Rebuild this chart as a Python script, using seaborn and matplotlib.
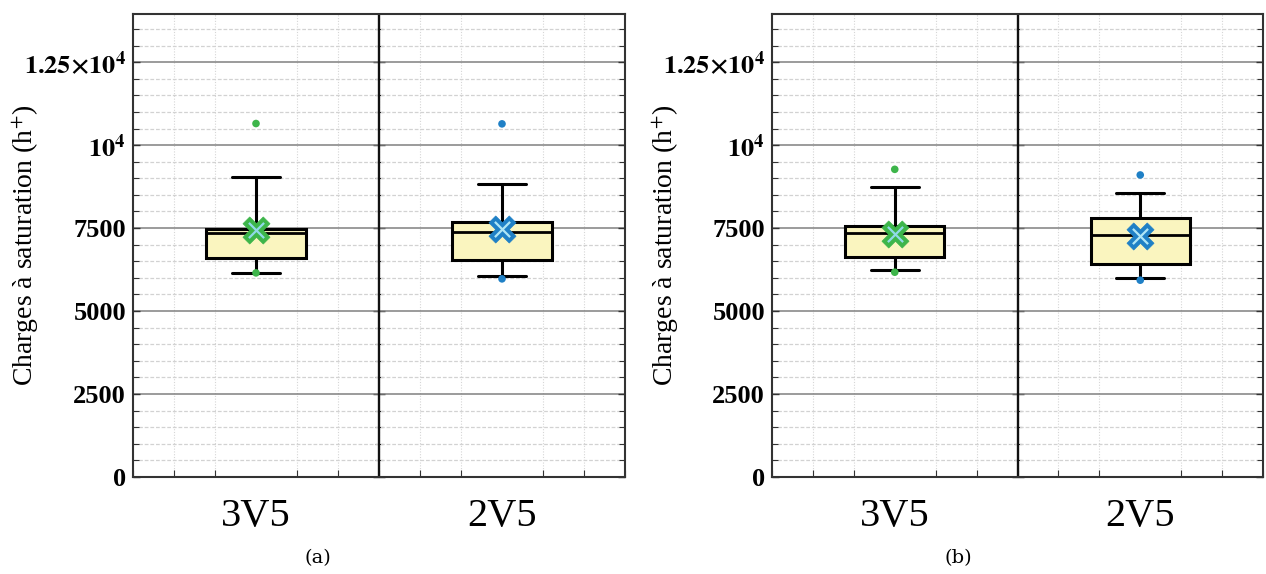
import numpy as np
import pandas as pd
import matplotlib
matplotlib.use("Agg")
import matplotlib.pyplot as plt
from matplotlib.ticker import MultipleLocator, FixedLocator, NullFormatter
import seaborn as sns

# ---------------- data ----------------
categories = ["3V5", "2V5"]
panel_names = ["(a)", "(b)"]

# panel (a)
whislo_a = [6150, 6050]
q1_a = [6590, 6530]
med_a = [7360, 7370]
q3_a = [7460, 7690]
whishi_a = [9030, 8830]
mean_a = [7440, 7460]
fliers_a = [[10650, 6150], [10640, 5970]]

# panel (b)
whislo_b = [6240, 6000]
q1_b = [6620, 6430]
med_b = [7350, 7300]
q3_b = [7550, 7810]
whishi_b = [8740, 8550]
mean_b = [7320, 7270]
fliers_b = [[9270, 6170], [9100, 5930]]

yticks = [0, 2500, 5000, 7500, 10000, 12500]
yticklabels = ["0", "2500", "5000", "7500", r"$\mathbf{10^4}$", r"$\mathbf{1.25{\times}10^4}$"]
ylabel = r"Charges à saturation (h$^{+}$)"

series_colors = ["#3db54a", "#1f80c6"]
inner_colors = ["#8fd9e8", "#aee6f6"]
box_fill = "#faf5bf"

# ---------------- style ----------------
sns.set_style("ticks")
plt.rcParams["font.family"] = ["Liberation Serif", "DejaVu Serif"]
plt.rcParams["mathtext.fontset"] = "stix"
plt.rcParams["text.color"] = "black"
plt.rcParams["xtick.color"] = "black"
plt.rcParams["ytick.color"] = "black"

fig = plt.figure(figsize=(12.66, 5.74), dpi=100)
W, H = 1266, 574

panels = [
    dict(left=133, right=625, lo=whislo_a, q1=q1_a, med=med_a, q3=q3_a, hi=whishi_a,
         mean=mean_a, fl=fliers_a, ylab_x=26, cap_x=318),
    dict(left=772, right=1263, lo=whislo_b, q1=q1_b, med=med_b, q3=q3_b, hi=whishi_b,
         mean=mean_b, fl=fliers_b, ylab_x=666, cap_x=958),
]
top_px, bot_px = 14, 477

for p, name in zip(panels, panel_names):
    ax = fig.add_axes([p["left"] / W, (H - bot_px) / H,
                       (p["right"] - p["left"]) / W, (bot_px - top_px) / H])
    ax.set_xlim(-0.5, 1.5)
    ax.set_ylim(0, 13950)

    # grid
    ax.yaxis.set_major_locator(FixedLocator(yticks))
    ax.yaxis.set_minor_locator(MultipleLocator(500))
    ax.xaxis.set_major_locator(FixedLocator([0, 1]))
    ax.xaxis.set_minor_locator(FixedLocator(np.arange(-0.5, 1.5001, 1 / 6)))
    ax.grid(True, which="major", axis="y", color="#808080", lw=1.1, ls="-", zorder=0)
    ax.grid(True, which="minor", axis="y", color="#d2d2d2", lw=0.9, ls=(0, (3, 1.5)), zorder=0)
    ax.grid(True, which="minor", axis="x", color="#d6d6d6", lw=0.8, ls=(0, (1, 1.5)), zorder=0)
    ax.set_axisbelow(True)

    stats = []
    for i in range(2):
        stats.append(dict(whislo=p["lo"][i], q1=p["q1"][i], med=p["med"][i],
                          q3=p["q3"][i], whishi=p["hi"][i], fliers=[], label=categories[i]))
    ax.bxp(stats, positions=[0, 1], widths=0.405, capwidths=0.196, patch_artist=True,
           showfliers=False, showmeans=False,
           boxprops=dict(facecolor=box_fill, edgecolor="black", lw=2.2),
           whiskerprops=dict(color="black", lw=2.2),
           capprops=dict(color="black", lw=2.2),
           medianprops=dict(color="black", lw=2), manage_ticks=False, zorder=3)

    # outliers and means via seaborn
    for i in range(2):
        fl = p["fl"][i]
        sns.scatterplot(x=[i] * len(fl), y=fl, ax=ax, color=series_colors[i], s=30,
                        edgecolor="none", zorder=4, legend=False)
        sns.scatterplot(x=[i], y=[p["mean"][i]], ax=ax, marker="X", s=380,
                        color=series_colors[i], edgecolor=series_colors[i], linewidth=0.5,
                        zorder=5, legend=False)
        sns.scatterplot(x=[i], y=[p["mean"][i]], ax=ax, marker="x", s=120,
                        color=inner_colors[i], linewidth=1.6, zorder=6, legend=False)

    # divider between categories, with its own ticks
    ax.axvline(0.5, color="#111111", lw=1.7, zorder=2)
    sec = ax.secondary_yaxis(0.5)
    sec.yaxis.set_major_locator(FixedLocator(yticks))
    sec.yaxis.set_minor_locator(MultipleLocator(500))
    sec.yaxis.set_major_formatter(NullFormatter())
    sec.yaxis.set_minor_formatter(NullFormatter())
    sec.tick_params(which="major", direction="inout", length=8, width=1, color="#222222")
    sec.tick_params(which="minor", direction="inout", length=6, width=0.8, color="#222222")
    sec.spines["right"].set_visible(False)
    sec.spines["left"].set_visible(False)

    ax.set_xticks([0, 1])
    ax.set_xticklabels(categories, fontsize=29, color="black")
    ax.set_yticklabels(yticklabels, fontsize=19, fontweight="bold", color="black")
    ax.tick_params(axis="both", which="both", direction="in", color="#333333")
    ax.tick_params(axis="y", which="major", length=5, width=1, right=True, pad=5)
    ax.tick_params(axis="y", which="minor", length=4, width=0.8, right=True)
    ax.tick_params(axis="x", which="major", length=0, pad=15)
    ax.tick_params(axis="x", which="minor", length=5, width=0.8, top=False)
    for s in ax.spines.values():
        s.set_color("#333333")
        s.set_linewidth(1.5)
    ax.set_xlabel("")
    ax.set_ylabel("")

    fig.text(p["ylab_x"] / W, 1 - 245 / H, ylabel, rotation=90, fontsize=20,
             ha="center", va="center", color="black")
    fig.text(p["cap_x"] / W, 1 - 558 / H, name, fontsize=14, ha="center", va="center",
             family=["DejaVu Serif"], color="black")

fig.savefig("out.png", dpi=100)
